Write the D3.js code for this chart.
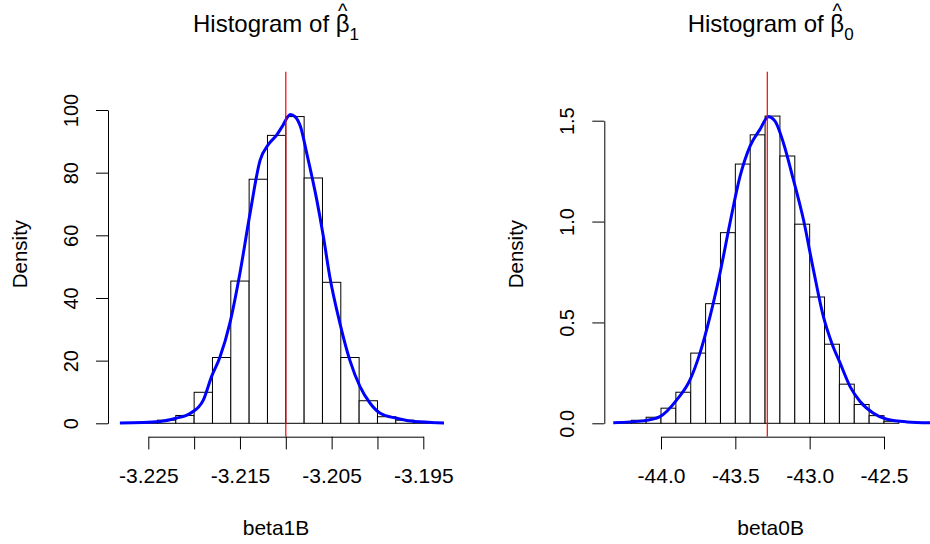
<!DOCTYPE html>
<html>
<head>
<meta charset="utf-8">
<script src="https://d3js.org/d3.v7.min.js"></script>
<style>
  body { margin: 0; background: #fff; }
  svg { display: block; font-family: "Liberation Sans", Arial, sans-serif; }
</style>
</head>
<body>
<svg id="chart" width="930" height="544"></svg>
<script>
// ---- beta1B: histogram (density scale) ----
var beta1Edges = [-3.228, -3.226, -3.224, -3.222, -3.220, -3.218, -3.216, -3.214, -3.212,
                  -3.210, -3.208, -3.206, -3.204, -3.202, -3.200, -3.198, -3.196, -3.194];
var beta1Density = [0.1, 0.3, 1.0, 2.5, 9.9, 21, 45.4, 77.9, 91.9, 97.9, 78.3, 45, 21, 7.2, 2.1, 1.0, 0.3];
// kernel density curve
var beta1KdeX = [-3.2281, -3.2237, -3.2220, -3.2204, -3.2190, -3.2181, -3.2172, -3.2161, -3.2150, -3.2139,
                 -3.2128, -3.2119, -3.2110, -3.2104, -3.2095, -3.2090, -3.2084, -3.2077, -3.2066, -3.2059,
                 -3.2052, -3.2041, -3.2030, -3.2019, -3.2008, -3.1997, -3.1979, -3.1964, -3.1935, -3.1926];
var beta1KdeY = [0.1, 0.6, 1.6, 3.2, 7.4, 14.9, 21, 32, 48, 67,
                 84, 89, 92, 94.7, 98.6, 97.9, 94.7, 86, 71, 59.6,
                 46.8, 32, 20, 11.7, 6.4, 3.2, 1.6, 0.7, 0.2, 0.1];
var beta1XTicks = [-3.225, -3.220, -3.215, -3.210, -3.205, -3.200, -3.195];
var beta1XLabels = ["-3.225", "", "-3.215", "", "-3.205", "", "-3.195"];
var beta1YTicks = [0, 20, 40, 60, 80, 100];
var beta1YLabels = ["0", "20", "40", "60", "80", "100"];
var beta1True = -3.210;

// ---- beta0B ----
var beta0Edges = [-44.3, -44.2, -44.1, -44.0, -43.9, -43.8, -43.7, -43.6, -43.5, -43.4,
                  -43.3, -43.2, -43.1, -43.0, -42.9, -42.8, -42.7, -42.6, -42.5, -42.4];
var beta0Density = [0.005, 0.015, 0.03, 0.075, 0.154, 0.348, 0.593, 0.945, 1.285, 1.430,
                    1.523, 1.325, 0.987, 0.626, 0.392, 0.194, 0.093, 0.038, 0.01];
var beta0KdeX = [-44.321, -44.119, -44.007, -43.894, -43.805, -43.738, -43.670, -43.603, -43.536, -43.468,
                 -43.401, -43.334, -43.278, -43.233, -43.177, -43.110, -43.042, -42.975, -42.908, -42.851,
                 -42.795, -42.728, -42.661, -42.571, -42.481, -42.347, -42.19];
var beta0KdeY = [0.003, 0.012, 0.033, 0.116, 0.215, 0.348, 0.530, 0.745, 0.993, 1.225,
                 1.374, 1.457, 1.520, 1.498, 1.391, 1.209, 1.010, 0.762, 0.530, 0.397,
                 0.298, 0.182, 0.108, 0.050, 0.020, 0.007, 0.003];
var beta0XTicks = [-44.0, -43.5, -43.0, -42.5];
var beta0XLabels = ["-44.0", "-43.5", "-43.0", "-42.5"];
var beta0YTicks = [0, 0.5, 1.0, 1.5];
var beta0YLabels = ["0.0", "0.5", "1.0", "1.5"];
var beta0True = -43.285;

var svg = d3.select("#chart");
var plotTop = 71.5, plotBottom = 436.7, yZero = 423.3;

function panel(p) {
  var x = d3.scaleLinear()
    .domain([p.xTicks[0], p.xTicks[p.xTicks.length - 1]])
    .range(p.xRange);
  var y = d3.scaleLinear()
    .domain([0, p.yTicks[p.yTicks.length - 1]])
    .range([yZero, p.yTopPx]);

  svg.append("clipPath").attr("id", p.id + "clip")
    .append("rect")
    .attr("x", p.left).attr("y", plotTop)
    .attr("width", p.right - p.left).attr("height", plotBottom - plotTop);

  var g = svg.append("g").attr("clip-path", "url(#" + p.id + "clip)");

  var bins = p.density.map(function (d, i) {
    return { x0: p.edges[i], x1: p.edges[i + 1], d: d };
  });

  g.selectAll("rect.bar")
    .data(bins)
    .enter()
    .append("rect")
    .attr("class", "bar")
    .attr("x", (d) => x(d.x0))
    .attr("y", (d) => y(d.d))
    .attr("width", (d) => x(d.x1) - x(d.x0))
    .attr("height", (d) => y(0) - y(d.d))
    .attr("fill", "#fff")
    .attr("stroke", "#000")
    .attr("stroke-width", 1);

  var kde = p.kdeX.map((v, i) => [v, p.kdeY[i]]);
  g.append("path")
    .datum(kde)
    .attr("fill", "none")
    .attr("stroke", "#0000ff")
    .attr("stroke-width", 3)
    .attr("stroke-linejoin", "round")
    .attr("d", d3.line().x((d) => x(d[0])).y((d) => y(d[1])).curve(d3.curveMonotoneX));

  g.append("line")
    .attr("x1", x(p.vline)).attr("x2", x(p.vline))
    .attr("y1", plotTop).attr("y2", plotBottom)
    .attr("stroke", "#ff0000")
    .attr("stroke-width", 1.2);

  // x axis
  var xa = svg.append("g")
    .attr("transform", "translate(0," + plotBottom + ")")
    .call(d3.axisBottom(x).tickValues(p.xTicks).tickSize(12.7).tickSizeOuter(0)
      .tickPadding(18.5)
      .tickFormat((d, i) => p.xLabels[i]));
  xa.attr("font-size", null).attr("font-family", null);
  xa.selectAll("text").style("font-size", "21px").attr("fill", "#000");
  xa.selectAll("line, path").attr("stroke", "#000");

  // y axis, labels parallel to the axis
  var ya = svg.append("g")
    .attr("transform", "translate(" + p.left + ",0)")
    .call(d3.axisLeft(y).tickValues(p.yTicks).tickSize(12).tickSizeOuter(0)
      .tickFormat((d, i) => p.yLabels[i]));
  ya.attr("font-size", null).attr("font-family", null);
  ya.selectAll("line, path").attr("stroke", "#000");
  ya.selectAll("text")
    .attr("transform", "rotate(-90)")
    .attr("x", 0).attr("y", -30).attr("dy", 0)
    .attr("text-anchor", "middle")
    .attr("fill", "#000")
    .style("font-size", "20px");

  var cx = (p.left + p.right) / 2;

  svg.append("text")
    .attr("x", cx).attr("y", 535)
    .attr("text-anchor", "middle")
    .style("font-size", "21px")
    .text(p.xTitle);

  svg.append("text")
    .attr("transform", "translate(" + (p.left - 81) + "," + (plotTop + plotBottom) / 2 + ") rotate(-90)")
    .attr("text-anchor", "middle")
    .style("font-size", "20.5px")
    .text("Density");

  // main title: Histogram of beta-hat with subscript
  var t = svg.append("text")
    .attr("x", cx).attr("y", 31.7)
    .attr("text-anchor", "middle")
    .style("font-size", "24px");
  var lead = "Histogram of ";
  t.append("tspan").text(lead);
  t.append("tspan").text("β");
  t.append("tspan").attr("dy", 8).style("font-size", "17px").text(p.sub);
  var ext = t.node().getExtentOfChar(lead.length);
  svg.append("text")
    .attr("x", ext.x + ext.width / 2).attr("y", 17.5)
    .attr("text-anchor", "middle")
    .style("font-size", "20px")
    .text("^");
}

panel({
  id: "b1", left: 108, right: 444, xRange: [148.3, 423.3], yTopPx: 110,
  edges: beta1Edges, density: beta1Density, kdeX: beta1KdeX, kdeY: beta1KdeY,
  xTicks: beta1XTicks, xLabels: beta1XLabels, yTicks: beta1YTicks, yLabels: beta1YLabels,
  vline: beta1True, xTitle: "beta1B", sub: "1"
});

panel({
  id: "b0", left: 604.3, right: 937, xRange: [661, 884], yTopPx: 120.7,
  edges: beta0Edges, density: beta0Density, kdeX: beta0KdeX, kdeY: beta0KdeY,
  xTicks: beta0XTicks, xLabels: beta0XLabels, yTicks: beta0YTicks, yLabels: beta0YLabels,
  vline: beta0True, xTitle: "beta0B", sub: "0"
});
</script>
</body>
</html>
